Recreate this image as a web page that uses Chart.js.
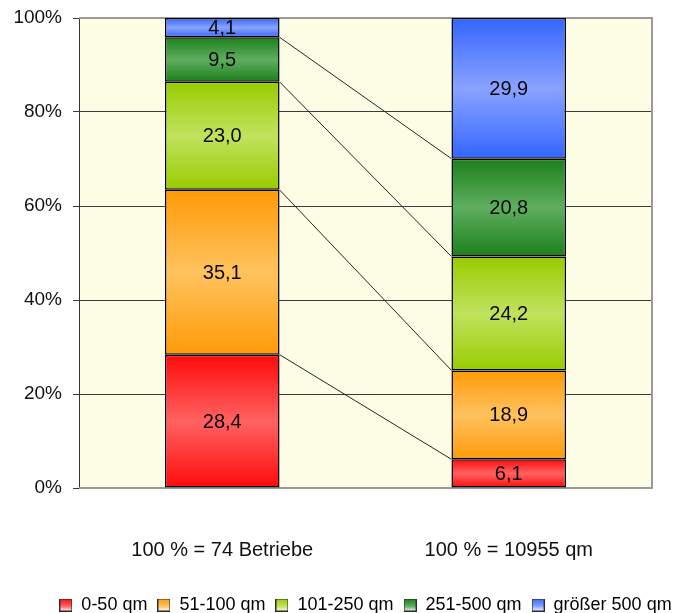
<!DOCTYPE html>
<html>
<head>
<meta charset="utf-8">
<title>Betriebe und Verkaufsfläche nach Größenklassen</title>
<script src="https://cdn.jsdelivr.net/npm/chart.js@4.4.1/dist/chart.umd.min.js"></script>
<style>
  html, body { margin: 0; padding: 0; background: #ffffff; }
  #wrap { width: 693px; height: 613px; position: relative; }
</style>
</head>
<body>
<div id="wrap"><canvas id="chart"></canvas></div>
<script>
// Size classes (legend) and the two columns
const categories = ['100 % = 74 Betriebe', '100 % = 10955 qm'];
const sizeClasses = ['0-50 qm', '51-100 qm', '101-250 qm', '251-500 qm', 'größer 500 qm'];

// Percent shares per size class
const shareBetriebe = [28.4, 35.1, 23.0, 9.5, 4.1];
const shareFlaeche = [6.1, 18.9, 24.2, 20.8, 29.9];

// Value axis ticks
const yTicks = [0, 20, 40, 60, 80, 100];

// Segment colours: saturated edge, lighter middle
const edgeColors = ['#FF0A0A', '#FF9A08', '#99CC00', '#1B801B', '#3366FF'];
const midColors = ['#FF6262', '#FFC25E', '#C0E25E', '#5FAE5F', '#8AA2FF'];

// 100 % stacking: each column is scaled to its own total
const columns = [shareBetriebe, shareFlaeche];
const totals = columns.map(c => c.reduce((a, b) => a + b, 0));
const normalized = columns.map((c, k) => c.map(v => v / totals[k] * 100));

function segmentGradient(ctx, i) {
  const chart = ctx.chart;
  if (!chart.chartArea || ctx.type !== 'data' || !chart.scales.y) return midColors[i];
  const k = ctx.dataIndex;
  let start = 0;
  for (let j = 0; j < i; j++) start += normalized[k][j];
  const end = start + normalized[k][i];
  const y = chart.scales.y;
  const top = y.getPixelForValue(end);
  const bottom = y.getPixelForValue(start);
  if (!isFinite(top) || !isFinite(bottom) || top === bottom) return midColors[i];
  const g = chart.ctx.createLinearGradient(0, top, 0, bottom);
  g.addColorStop(0, edgeColors[i]);
  g.addColorStop(0.5, midColors[i]);
  g.addColorStop(1, edgeColors[i]);
  return g;
}

function legendSwatch(i) {
  const c = document.createElement('canvas');
  c.width = 13; c.height = 13;
  const x = c.getContext('2d');
  const g = x.createLinearGradient(0, 0, 0, 13);
  g.addColorStop(0, edgeColors[i]);
  g.addColorStop(0.6, midColors[i]);
  g.addColorStop(1, '#ffffff');
  x.fillStyle = g;
  x.fillRect(0, 0, 13, 13);
  x.strokeStyle = '#2a2a2a';
  x.lineWidth = 1;
  x.strokeRect(0.5, 0.5, 12, 12);
  return c;
}

const datasets = sizeClasses.map((name, i) => ({
  label: name,
  data: [normalized[0][i], normalized[1][i]],
  raw: [shareBetriebe[i], shareFlaeche[i]],
  backgroundColor: ctx => segmentGradient(ctx, i),
  borderColor: '#000000',
  borderWidth: 1.5,
  borderSkipped: false,
  barPercentage: 0.4,
  categoryPercentage: 1.0
}));

const plotBackground = {
  id: 'plotBackground',
  beforeDraw(chart) {
    const { ctx, chartArea: a } = chart;
    ctx.save();
    ctx.fillStyle = '#FDFDE6';
    ctx.fillRect(a.left, a.top, a.right - a.left, a.bottom - a.top);
    ctx.restore();
  }
};

// centre the legend under the plot area rather than the whole canvas
const legendUnderPlot = {
  id: 'legendUnderPlot',
  afterLayout(chart) {
    const lg = chart.legend, a = chart.chartArea;
    if (!lg || !a) return;
    const shift = (a.left + a.right) / 2 - (lg.left + lg.right) / 2;
    lg.left += shift;
    lg.right += shift;
  }
};

const frameAndConnectors = {
  id: 'frameAndConnectors',
  beforeDatasetsDraw(chart) {
    const { ctx, chartArea: a } = chart;
    ctx.save();
    // plot frame (top, right, bottom)
    ctx.strokeStyle = '#9a9a9a';
    ctx.lineWidth = 2;
    ctx.beginPath();
    ctx.moveTo(a.left, a.top);
    ctx.lineTo(a.right, a.top);
    ctx.lineTo(a.right, a.bottom);
    ctx.lineTo(a.left, a.bottom);
    ctx.stroke();
    // series lines between the tops of matching segments
    ctx.strokeStyle = '#262626';
    ctx.lineWidth = 1;
    for (let i = 0; i < sizeClasses.length - 1; i++) {
      const meta = chart.getDatasetMeta(i);
      const e0 = meta.data[0], e1 = meta.data[1];
      if (!e0 || !e1) continue;
      ctx.beginPath();
      ctx.moveTo(e0.x + e0.width / 2, e0.y);
      ctx.lineTo(e1.x - e1.width / 2, e1.y);
      ctx.stroke();
    }
    ctx.restore();
  }
};

const valueLabels = {
  id: 'valueLabels',
  afterDatasetsDraw(chart) {
    const { ctx } = chart;
    ctx.save();
    ctx.font = '20px "Liberation Sans", Arial, sans-serif';
    ctx.fillStyle = '#0a0a0a';
    ctx.textAlign = 'center';
    ctx.textBaseline = 'middle';
    chart.data.datasets.forEach((ds, i) => {
      chart.getDatasetMeta(i).data.forEach((el, k) => {
        const txt = ds.raw[k].toFixed(1).replace('.', ',');
        ctx.fillText(txt, el.x, (el.y + el.base) / 2 + 1);
      });
    });
    ctx.restore();
  }
};

Chart.defaults.font.family = '"Liberation Sans", Arial, sans-serif';
Chart.defaults.font.size = 19;
Chart.defaults.color = '#111111';

new Chart(document.getElementById('chart'), {
  type: 'bar',
  data: { labels: categories, datasets },
  options: {
    responsive: true,
    maintainAspectRatio: false,
    animation: false,
    devicePixelRatio: 1,
    layout: { padding: { left: 0, right: 41, top: 18, bottom: -11 } },
    scales: {
      x: {
        stacked: true,
        grid: { display: false, drawTicks: false },
        border: { display: false },
        ticks: { padding: 50, maxRotation: 0, autoSkip: false, font: { size: 20 } },
        afterFit(s) { s.height = 98; }
      },
      y: {
        stacked: true,
        min: 0,
        max: 100,
        afterBuildTicks(s) { s.ticks = yTicks.map(v => ({ value: v })); },
        ticks: { padding: 11, callback: v => v + '%', font: { size: 19, lineHeight: 0.6 } },
        grid: {
          color: ctx => (ctx.tick && (ctx.tick.value === 0 || ctx.tick.value === 100)) ? 'rgba(0,0,0,0)' : '#3c3c3c',
          tickColor: '#3c3c3c',
          tickLength: 6,
          lineWidth: 1
        },
        border: { display: true, color: '#333333', width: 1 },
        afterFit(s) { s.width = 79; }
      }
    },
    plugins: {
      legend: {
        position: 'bottom',
        labels: {
          usePointStyle: true,
          boxWidth: 13,
          boxHeight: 13,
          padding: 10,
          color: '#111111',
          font: { size: 18 },
          generateLabels: () => sizeClasses.map((name, i) => ({
            text: name,
            pointStyle: legendSwatch(i),
            fillStyle: midColors[i],
            strokeStyle: '#2a2a2a',
            lineWidth: 1,
            hidden: false,
            datasetIndex: i
          }))
        }
      },
      tooltip: { enabled: false }
    }
  },
  plugins: [plotBackground, legendUnderPlot, frameAndConnectors, valueLabels]
});
</script>
</body>
</html>
